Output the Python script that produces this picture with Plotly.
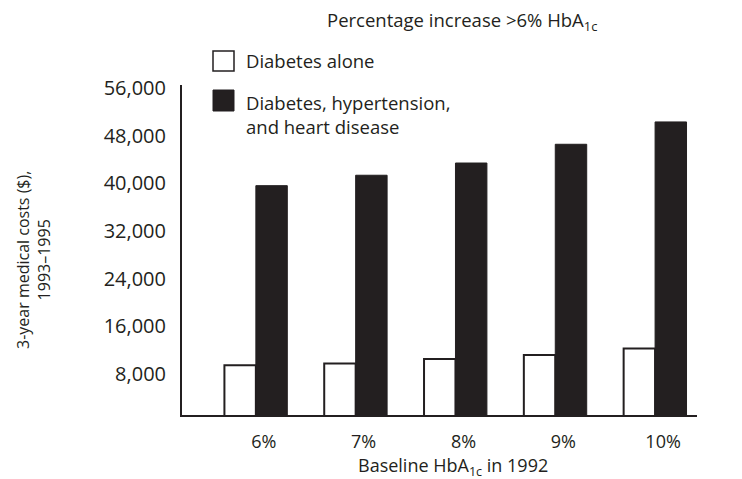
import plotly.graph_objects as go

categories = ["6%", "7%", "8%", "9%", "10%"]
series_names = ["Diabetes alone", "Diabetes, hypertension,<br>and heart disease"]
diabetes_alone = [9460, 9730, 10520, 11190, 12250]
diabetes_htn_heart = [39600, 41350, 43400, 46550, 50300]
y_tickvals = [8000, 16000, 24000, 32000, 40000, 48000, 56000]
y_ticktext = ["8,000", "16,000", "24,000", "32,000", "40,000", "48,000", "56,000"]

INK = "#231f20"
FONT = "Open Sans"

# The page body has an 8px margin; the figure sits at (8, 8).
OFF = 8
W, H = 742 - OFF, 479 - OFF
# Plot area in page pixels: x 182..697, y 85..415
ML, MT = 182 - OFF, 85 - OFF
MR, MB = W - (697 - OFF), H - (415 - OFF)
PW, PH = W - ML - MR, H - MT - MB

def px_x(x):
    return (x - OFF - ML) / PW

def px_y(y):
    return 1 - (y - OFF - MT) / PH

fig = go.Figure()
fig.add_trace(go.Bar(x=categories, y=diabetes_alone, name=series_names[0],
                     marker=dict(color="white", line=dict(color=INK, width=2))))
fig.add_trace(go.Bar(x=categories, y=diabetes_htn_heart, name=series_names[1],
                     marker=dict(color=INK, line=dict(color=INK, width=1))))

fig.update_layout(
    width=W, height=H,
    margin=dict(l=ML, r=MR, t=MT, b=MB, pad=0),
    paper_bgcolor="white", plot_bgcolor="white",
    barmode="group", bargap=0.37, bargroupgap=0,
    showlegend=False,
    font=dict(family=FONT, color=INK, size=18),
)
fig.update_xaxes(
    type="category", range=[-0.74, 4.42],
    showline=True, linecolor=INK, linewidth=2,
    showgrid=False, zeroline=False, ticks="",
    tickfont=dict(size=18, color=INK),
    ticklabelstandoff=9, ticklabelshift=8,
)
fig.update_yaxes(
    range=[1100, 56500],
    showline=True, linecolor=INK, linewidth=2,
    showgrid=False, zeroline=False, ticks="",
    tickvals=y_tickvals, ticktext=y_ticktext,
    tickfont=dict(size=20, color=INK),
    ticklabelstandoff=10,
)

# Title
fig.add_annotation(text="Percentage increase >6% HbA<sub>1c</sub>", xref="paper", yref="paper",
                   x=px_x(462), y=px_y(21), showarrow=False, xanchor="center", yanchor="middle",
                   font=dict(size=18.5, color=INK))
# Axis titles
fig.add_annotation(text="3-year medical costs ($),<br>1993–1995", xref="paper", yref="paper",
                   x=px_x(33), y=px_y(260), showarrow=False, textangle=-90,
                   xanchor="center", yanchor="middle", font=dict(size=16, color=INK))
fig.add_annotation(text="Baseline HbA<sub>1c</sub> in 1992", xref="paper", yref="paper",
                   x=px_x(453), y=px_y(466), showarrow=False, xanchor="center", yanchor="middle",
                   font=dict(size=18, color=INK))

# Legend (manual)
fig.add_shape(type="rect", xref="paper", yref="paper",
              x0=px_x(213), x1=px_x(234), y0=px_y(71), y1=px_y(51),
              line=dict(color=INK, width=1.5), fillcolor="white")
fig.add_shape(type="rect", xref="paper", yref="paper",
              x0=px_x(213), x1=px_x(234), y0=px_y(111), y1=px_y(90),
              line=dict(color=INK, width=1), fillcolor=INK)
fig.add_annotation(text=series_names[0], xref="paper", yref="paper",
                   x=px_x(244), y=px_y(61), showarrow=False, xanchor="left", yanchor="middle",
                   align="left", font=dict(size=18.5, color=INK))
fig.add_annotation(text=series_names[1], xref="paper", yref="paper",
                   x=px_x(244), y=px_y(88), showarrow=False, xanchor="left", yanchor="top",
                   align="left", font=dict(size=18.5, color=INK))

fig.write_html("out.html")
